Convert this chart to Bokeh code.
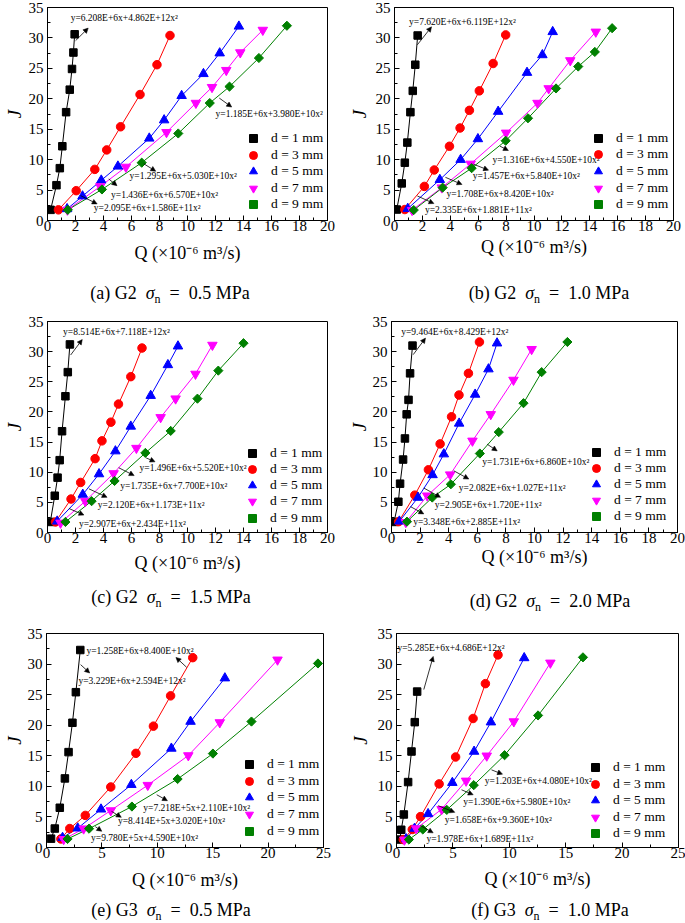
import math
from bokeh.plotting import figure
from bokeh.layouts import column, row
from bokeh.models import (Range1d, SingleIntervalTicker, Label, Arrow, NormalHead,
                          Legend, LegendItem, ColumnDataSource, Div)
from bokeh.core.properties import value
from bokeh.embed import file_html
from bokeh.resources import INLINE

# ---------------- data (Q in 1e-6 m^3/s, J dimensionless) ----------------
SERIES_LABELS = ["d = 1 mm", "d = 3 mm", "d = 5 mm", "d = 7 mm", "d = 9 mm"]

# (a) G2, sigma_n = 0.5 MPa
a_q_d1 = [0.22, 0.64, 0.88, 1.06, 1.33, 1.59, 1.75, 1.85, 1.94]
a_j_d1 = [1.75, 5.8, 8.6, 12.2, 17.8, 21.5, 24.9, 27.6, 30.6]
a_q_d3 = [0.78, 2.05, 3.38, 4.23, 5.22, 6.61, 7.82, 8.75]
a_j_d3 = [1.75, 4.9, 8.4, 11.6, 15.4, 20.7, 25.6, 30.4]
a_q_d5 = [1.40, 2.50, 3.84, 5.03, 7.27, 8.33, 9.58, 11.14, 12.30, 13.67]
a_j_d5 = [1.9, 4.0, 6.6, 8.9, 13.5, 16.5, 20.5, 24.1, 27.5, 31.9]
a_q_d7 = [1.42, 3.77, 5.60, 8.50, 10.60, 11.75, 12.77, 13.77, 15.38]
a_j_d7 = [1.75, 5.6, 8.8, 14.5, 19.3, 21.9, 24.7, 27.6, 31.3]
a_q_d9 = [1.45, 3.89, 6.73, 9.34, 11.59, 13.00, 15.10, 17.10]
a_j_d9 = [1.75, 5.1, 9.5, 14.3, 19.3, 22.0, 26.7, 32.0]

# (b) G2, sigma_n = 1.0 MPa
b_q_d1 = [0.16, 0.52, 0.74, 0.92, 1.14, 1.31, 1.49, 1.66]
b_j_d1 = [1.8, 6.1, 9.5, 12.8, 17.8, 21.3, 25.6, 30.4]
b_q_d3 = [0.74, 2.14, 2.85, 3.94, 4.70, 5.37, 6.08, 7.07, 7.97]
b_j_d3 = [1.8, 5.6, 8.3, 12.2, 15.2, 18.1, 21.3, 25.8, 30.5]
b_q_d5 = [0.95, 3.25, 4.74, 5.98, 7.43, 9.50, 10.60, 11.34]
b_j_d5 = [1.95, 6.7, 10.0, 13.4, 17.9, 24.3, 27.2, 31.0]
b_q_d7 = [1.26, 3.39, 5.46, 8.00, 10.25, 11.05, 12.60, 14.43]
b_j_d7 = [1.7, 5.4, 9.3, 14.4, 19.3, 21.7, 26.3, 31.0]
b_q_d9 = [1.38, 3.45, 5.53, 7.97, 9.57, 11.58, 13.17, 14.36, 15.60]
b_j_d9 = [1.72, 5.4, 8.6, 13.1, 16.8, 21.7, 25.3, 27.7, 31.6]

# (c) G2, sigma_n = 1.5 MPa
c_q_d1 = [0.20, 0.52, 0.72, 0.87, 1.04, 1.28, 1.45, 1.60]
c_j_d1 = [1.75, 6.1, 9.1, 12.0, 16.8, 22.6, 26.6, 31.2]
c_q_d3 = [0.57, 1.68, 2.37, 3.40, 3.89, 4.53, 5.07, 5.95, 6.75]
c_j_d3 = [1.75, 5.55, 8.3, 12.25, 15.2, 18.3, 21.3, 25.85, 30.6]
c_q_d5 = [0.69, 2.52, 3.68, 4.85, 5.95, 7.37, 8.60, 9.32]
c_j_d5 = [1.85, 6.3, 9.7, 13.5, 17.6, 22.7, 27.8, 30.9]
c_q_d7 = [0.93, 2.70, 4.72, 6.35, 8.08, 9.15, 10.57, 11.78]
c_j_d7 = [1.6, 5.2, 9.8, 14.0, 19.1, 22.2, 26.3, 31.1]
c_q_d9 = [1.28, 3.15, 4.79, 6.99, 8.80, 10.71, 12.20, 14.00]
c_j_d9 = [1.75, 5.2, 8.55, 13.2, 16.85, 22.2, 26.85, 31.4]

# (d) G2, sigma_n = 2.0 MPa
d_q_d1 = [0.18, 0.48, 0.60, 0.81, 0.94, 1.06, 1.19, 1.30, 1.47]
d_j_d1 = [1.75, 5.1, 8.1, 12.1, 15.6, 19.6, 22.0, 26.4, 31.0]
d_q_d3 = [0.50, 1.63, 2.58, 3.40, 4.20, 4.72, 5.38, 6.15]
d_j_d3 = [1.8, 6.2, 10.4, 14.7, 19.2, 22.8, 26.4, 31.6]
d_q_d5 = [0.55, 1.85, 2.87, 3.66, 4.73, 5.85, 6.78, 7.38]
d_j_d5 = [1.85, 5.8, 9.55, 13.0, 18.1, 22.9, 27.1, 31.4]
d_q_d7 = [1.00, 2.50, 4.10, 5.66, 6.94, 8.53, 9.80]
d_j_d7 = [1.7, 6.1, 9.6, 15.2, 19.6, 25.3, 30.4]
d_q_d9 = [1.08, 2.85, 4.15, 6.18, 7.50, 9.23, 10.50, 12.30]
d_j_d9 = [1.8, 5.8, 8.0, 13.1, 16.65, 21.45, 26.6, 31.6]

# (e) G3, sigma_n = 0.5 MPa
e_q_d1 = [0.41, 0.75, 1.20, 1.66, 1.99, 2.34, 2.65, 3.05]
e_j_d1 = [1.45, 3.1, 6.5, 11.3, 15.6, 20.4, 25.4, 32.3]
e_q_d3 = [1.30, 2.10, 3.50, 5.80, 8.07, 9.65, 11.20, 13.20]
e_j_d3 = [1.4, 3.1, 5.25, 9.9, 15.4, 19.85, 24.8, 31.05]
e_q_d5 = [1.45, 2.82, 4.92, 7.66, 11.27, 13.00, 16.10]
e_j_d5 = [1.6, 3.15, 6.25, 10.27, 16.2, 20.6, 27.7]
e_q_d7 = [1.55, 3.35, 5.80, 9.14, 12.80, 15.64, 20.85]
e_j_d7 = [1.35, 3.08, 6.05, 10.2, 15.05, 20.45, 30.7]
e_q_d9 = [1.90, 3.84, 7.71, 11.83, 15.02, 18.50, 24.50]
e_j_d9 = [1.4, 3.08, 6.7, 11.2, 15.36, 20.6, 30.1]

# (f) G3, sigma_n = 1.0 MPa
f_q_d1 = [0.30, 0.42, 0.65, 1.03, 1.33, 1.62, 1.83]
f_j_d1 = [1.3, 2.9, 5.4, 10.7, 15.7, 20.5, 25.5]
f_q_d3 = [0.60, 1.40, 2.13, 3.78, 5.24, 6.79, 7.88, 9.00]
f_j_d3 = [1.3, 2.95, 5.05, 10.4, 14.8, 21.1, 26.8, 31.5]
f_q_d5 = [0.85, 1.60, 2.80, 4.95, 6.88, 8.37, 11.32]
f_j_d5 = [1.4, 3.1, 5.5, 10.6, 15.7, 20.5, 31.0]
f_q_d7 = [0.70, 1.75, 4.00, 6.17, 8.00, 10.40, 13.64]
f_j_d7 = [1.25, 3.1, 6.25, 10.9, 15.0, 20.6, 30.2]
f_q_d9 = [1.10, 2.33, 4.46, 6.85, 9.58, 12.55, 16.53]
f_j_d9 = [1.3, 2.95, 6.15, 10.2, 15.1, 21.6, 31.1]

# fitted equations shown on each panel
a_eq = ["y=6.208E+6x+4.862E+12x²", "y=1.185E+6x+3.980E+10x²", "y=1.295E+6x+5.030E+10x²",
        "y=1.436E+6x+6.570E+10x²", "y=2.095E+6x+1.586E+11x²"]
b_eq = ["y=7.620E+6x+6.119E+12x²", "y=1.316E+6x+4.550E+10x²", "y=1.457E+6x+5.840E+10x²",
        "y=1.708E+6x+8.420E+10x²", "y=2.335E+6x+1.881E+11x²"]
c_eq = ["y=8.514E+6x+7.118E+12x²", "y=1.496E+6x+5.520E+10x²", "y=1.735E+6x+7.700E+10x²",
        "y=2.120E+6x+1.173E+11x²", "y=2.907E+6x+2.434E+11x²"]
d_eq = ["y=9.464E+6x+8.429E+12x²", "y=1.731E+6x+6.860E+10x²", "y=2.082E+6x+1.027E+11x²",
        "y=2.905E+6x+1.720E+11x²", "y=3.348E+6x+2.885E+11x²"]
e_eq = ["y=1.258E+6x+8.400E+10x²", "y=3.229E+6x+2.594E+12x²", "y=7.218E+5x+2.110E+10x²",
        "y=8.414E+5x+3.020E+10x²", "y=9.780E+5x+4.590E+10x²"]
f_eq = ["y=5.285E+6x+4.686E+12x²", "y=1.203E+6x+4.080E+10x²", "y=1.390E+6x+5.980E+10x²",
        "y=1.658E+6x+9.360E+10x²", "y=1.978E+6x+1.689E+11x²"]

captions = [("a", "G2", "0.5"), ("b", "G2", "1.0"), ("c", "G2", "1.5"),
            ("d", "G2", "2.0"), ("e", "G3", "0.5"), ("f", "G3", "1.0")]
X_TITLE = "Q (×10⁻⁶ m³/s)"
Y_TITLE = "J"

# ---------------- layout / positions (page pixels) ----------------
FONT = "Liberation Serif"
COLORS = ["#000000", "#FF0000", "#0000FF", "#FF00FF", "#008000"]
MARKERS = ["square", "circle", "triangle", "inverted_triangle", "square"]
ANGLES = [0, 0, 0, 0, math.pi / 4]
SIZES = [7.5, 8.5, 9.5, 9.5, 6.5]

# frame: left, top, width, height, xmax ; box: fig x, fig y, fig width, fig height
GEOM = {
    "a": dict(frame=(45, 6, 282, 214, 20), box=(0, 0, 345, 275), xint=2, xstd=9, ystd=1),
    "b": dict(frame=(392, 7, 281, 217, 20), box=(345, 0, 340, 275), xint=2, xstd=3, ystd=3),
    "c": dict(frame=(45, 321, 282, 214, 20), box=(0, 310, 345, 272), xint=2, xstd=7, ystd=1),
    "d": dict(frame=(391, 320, 286, 212, 20), box=(345, 310, 340, 272), xint=2, xstd=1, ystd=0),
    "e": dict(frame=(39, 632, 284, 215, 25), box=(0, 620, 345, 275), xint=5, xstd=9, ystd=0),
    "f": dict(frame=(396, 633, 282, 215, 25), box=(345, 620, 340, 275), xint=5, xstd=8, ystd=4),
}
CAP_BOX = {"a": (345, 35, 170, 293 - 275), "b": (340, 35, 204, 293 - 275),
           "c": (345, 38, 171, 597 - 582), "d": (340, 38, 205, 601 - 582),
           "e": (345, 28, 171, 910 - 895), "f": (340, 28, 205, 910 - 895)}
EQ_POS = {
    "a": [(68.3, 17), (214.3, 113.3), (127.7, 175), (109, 194.3), (91.7, 207.3)],
    "b": [(406.7, 21.7), (490.7, 162.7), (470.7, 179), (444.3, 197.3), (422.7, 213.3)],
    "c": [(60.7, 331.7), (137.7, 470), (118.3, 487.7), (95.7, 507.3), (76.7, 526)],
    "d": [(400.7, 330.7), (481.7, 461), (458.3, 487.3), (434.3, 504.3), (412.7, 521.7)],
    "e": [(80, 650), (71.7, 680), (138.3, 807.3), (112.3, 820), (84.7, 837.3)],
    "f": [(397, 647.7), (484.3, 781), (462.7, 802.3), (444.3, 820), (426, 839.3)],
}
ARROWS = {
    "a": [(73.3, 39.3, 86, 26.7), (218, 97, 230.5, 106), (142, 163, 154, 170.5),
          (106.7, 178.3, 115, 185), (78.3, 195, 95, 203.3)],
    "b": [(415, 45, 429.3, 26.7), (498.3, 148.3, 506.7, 152.7), (471.7, 166.7, 486.7, 172.7),
          (443.3, 180, 460, 187.3), (415, 199, 431.7, 206.7)],
    "c": [(68.3, 355, 80, 339.3), (144.3, 459.3, 153.3, 463.3), (116.7, 469.3, 132.3, 477.3),
          (86.7, 490.7, 105, 499.3), (66.7, 510.7, 81.7, 517.3)],
    "d": [(412.7, 353.3, 425, 336.7), (486.7, 443.3, 496.7, 450), (453.3, 470, 468.3, 478.3),
          (423.3, 487.3, 440, 496.7), (410, 506, 423.3, 513.3)],
    "e": [(182.7, 666, 171.7, 656), (74, 663.3, 83.3, 671.7), (152, 794, 163, 800),
          (105.7, 810.7, 115.7, 816.7), (89, 826, 95.7, 830.7)],
    "f": [(423.3, 689.3, 432.7, 656), (491, 770, 502, 774.3), (461, 790, 472.7, 795),
          (437.7, 806, 454.3, 812.7), (420, 826, 432.7, 833.3)],
}
# legend: glyph-box left x (page), centre y of last row (page), row pitch
LEGEND_POS = {"a": (241, 204, 16.5), "b": (586, 208.3, 16.65), "c": (240, 520.7, 16.25),
              "d": (586, 516, 16.1), "e": (232, 830.7, 16.7), "f": (585, 834.3, 16.5)}

SERIES = {
    "a": [(a_q_d1, a_j_d1), (a_q_d3, a_j_d3), (a_q_d5, a_j_d5), (a_q_d7, a_j_d7), (a_q_d9, a_j_d9)],
    "b": [(b_q_d1, b_j_d1), (b_q_d3, b_j_d3), (b_q_d5, b_j_d5), (b_q_d7, b_j_d7), (b_q_d9, b_j_d9)],
    "c": [(c_q_d1, c_j_d1), (c_q_d3, c_j_d3), (c_q_d5, c_j_d5), (c_q_d7, c_j_d7), (c_q_d9, c_j_d9)],
    "d": [(d_q_d1, d_j_d1), (d_q_d3, d_j_d3), (d_q_d5, d_j_d5), (d_q_d7, d_j_d7), (d_q_d9, d_j_d9)],
    "e": [(e_q_d1, e_j_d1), (e_q_d3, e_j_d3), (e_q_d5, e_j_d5), (e_q_d7, e_j_d7), (e_q_d9, e_j_d9)],
    "f": [(f_q_d1, f_j_d1), (f_q_d3, f_j_d3), (f_q_d5, f_j_d5), (f_q_d7, f_j_d7), (f_q_d9, f_j_d9)],
}
EQS = {"a": a_eq, "b": b_eq, "c": c_eq, "d": d_eq, "e": e_eq, "f": f_eq}


def make_panel(key):
    g = GEOM[key]
    left, top, w, h, xmax = g["frame"]
    bx, by, bw, bh = g["box"]
    mbl = left - bx
    mbt = top - by
    p = figure(width=bw, height=bh, x_range=Range1d(0, xmax), y_range=Range1d(0, 35),
               output_backend="svg", toolbar_location=None,
               min_border_left=mbl, min_border_right=bw - mbl - w,
               min_border_top=mbt, min_border_bottom=bh - mbt - h,
               background_fill_color="white", border_fill_color="white")
    p.xgrid.visible = False
    p.ygrid.visible = False
    p.outline_line_color = "black"
    p.outline_line_width = 1
    p.outline_line_alpha = 1

    p.xaxis.ticker = SingleIntervalTicker(interval=g["xint"], num_minor_ticks=2)
    p.yaxis.ticker = SingleIntervalTicker(interval=5, num_minor_ticks=2)
    for ax in (p.xaxis, p.yaxis):
        ax.major_tick_in = 5
        ax.major_tick_out = 0
        ax.minor_tick_in = 3
        ax.minor_tick_out = 0
        ax.axis_line_color = "black"
        ax.major_tick_line_color = "black"
        ax.minor_tick_line_color = "black"
        ax.major_label_text_font = FONT
        ax.major_label_text_font_size = "15px"
        ax.major_label_text_color = "black"
        ax.axis_label_text_font = FONT
        ax.axis_label_text_color = "black"
    p.xaxis.major_label_standoff = 0
    p.yaxis.major_label_standoff = 4
    p.xaxis.axis_label = X_TITLE
    p.xaxis.axis_label_text_font_size = "18px"
    p.xaxis.axis_label_text_font_style = "normal"
    p.xaxis.axis_label_standoff = g["xstd"]
    p.yaxis.axis_label = Y_TITLE
    p.yaxis.axis_label_text_font_size = "19px"
    p.yaxis.axis_label_text_font_style = "italic"
    p.yaxis.axis_label_standoff = g["ystd"]

    def dx(px):
        return (px - left) / w * xmax

    def dy(py):
        return (top + h - py) / h * 35.0

    scat = []
    srcs = []
    for k, (q, j) in enumerate(SERIES[key]):
        src = ColumnDataSource(dict(q=q, j=j))
        srcs.append(src)
        p.line("q", "j", source=src, line_color=COLORS[k], line_width=1)
    for k, src in enumerate(srcs):
        r = p.scatter("q", "j", source=src, marker=MARKERS[k], size=SIZES[k], angle=ANGLES[k],
                      fill_color=COLORS[k], line_color=COLORS[k])
        scat.append(r)

    # equations + arrows
    for txt, (ex, ey), (x0, y0, x1, y1) in zip(EQS[key], EQ_POS[key], ARROWS[key]):
        p.add_layout(Label(x=dx(ex), y=dy(ey), text=txt, text_font=FONT,
                           text_font_size="9.5px", text_align="left", text_baseline="middle",
                           text_color="black"))
        p.add_layout(Arrow(x_start=dx(x0), y_start=dy(y0), x_end=dx(x1), y_end=dy(y1),
                           line_color="black", line_width=0.8,
                           end=NormalHead(size=5, fill_color="black", line_color="black",
                                          line_width=0.5)))

    # legend: one entry per Legend so that the row pitch matches the reference
    lx, ly_last, pitch = LEGEND_POS[key]
    for k, (lbl, r) in enumerate(zip(SERIES_LABELS, scat)):
        cy = ly_last - (4 - k) * pitch
        leg = Legend(items=[LegendItem(label=value(lbl), renderers=[r])],
                     location=(lx - left, (top + h) - cy - 10), orientation="vertical",
                     border_line_color=None, background_fill_alpha=0,
                     label_text_font=FONT, label_text_font_size="13.5px",
                     label_text_color="black", glyph_width=20, glyph_height=20,
                     spacing=0, padding=0, margin=0, label_standoff=8, label_height=20)
        p.add_layout(leg)
    return p


def make_caption(key, cap):
    letter, grain, stress = cap
    width, height, cx, cy = CAP_BOX[key]
    html = ('<div style="margin-left:%dpx;width:220px;text-align:center;'
            'font-family:\'Liberation Serif\';font-size:18px;line-height:20px;color:#000;'
            'padding-top:%dpx;white-space:nowrap;">(%s) %s&nbsp;&nbsp;<i>σ</i>'
            '<span style="font-size:12px;position:relative;top:4px;">n</span>'
            '&nbsp;&nbsp;=&nbsp;&nbsp;%s MPa</div>'
            % (cx - 110, cy - 10, letter, grain, stress))
    return Div(text=html, width=width, height=height, margin=(0, 0, 0, 0))


figs = {}
caps = {}
for cap in captions:
    figs[cap[0]] = make_panel(cap[0])
    caps[cap[0]] = make_caption(cap[0], cap)

layout = column(row(figs["a"], figs["b"]),
                row(caps["a"], caps["b"]),
                row(figs["c"], figs["d"]),
                row(caps["c"], caps["d"]),
                row(figs["e"], figs["f"]),
                row(caps["e"], caps["f"]))

open("out.html", "w").write(file_html(layout, INLINE, title="J-Q curves"))
